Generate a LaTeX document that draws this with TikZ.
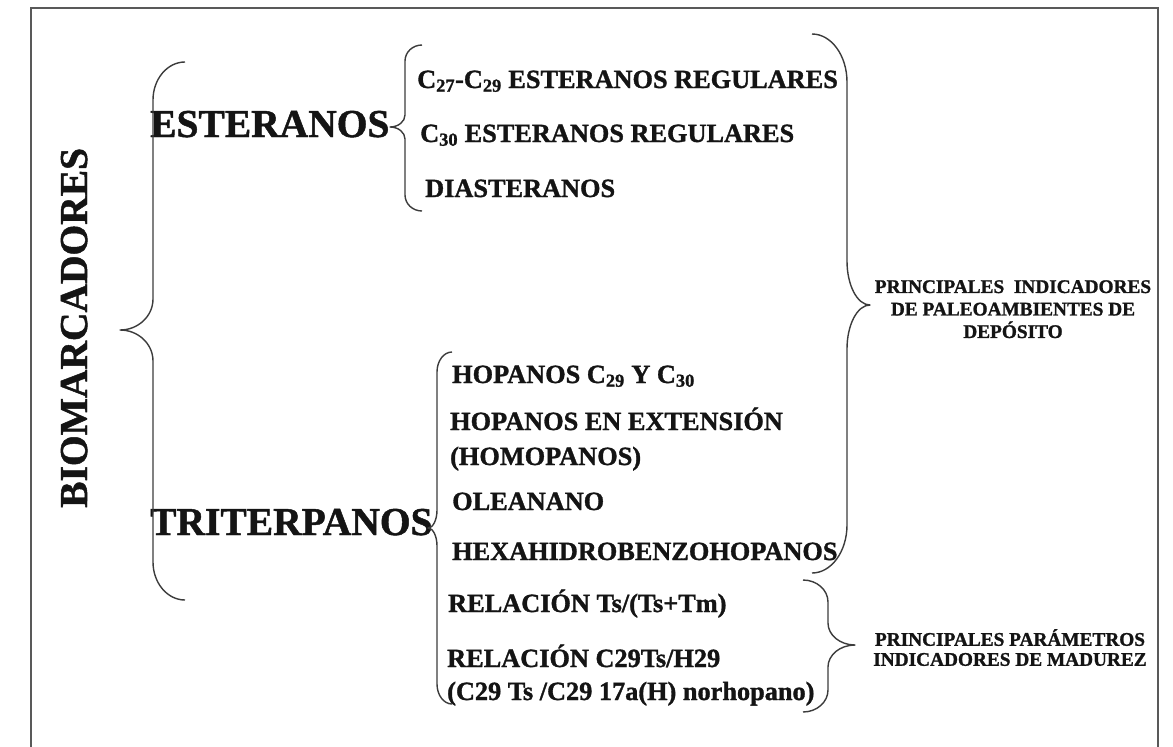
\documentclass[tikz,border=0pt]{standalone}
\usepackage{fontspec}
\setmainfont{Liberation Serif}[BoldFeatures={FakeBold=1.2}]
\definecolor{linec}{HTML}{3C3C3C}
\definecolor{textc}{HTML}{141414}
\tikzset{
  brc/.style={draw=linec, line width=1.4pt, line join=round},
  frm/.style={draw=linec!85, line width=1.8pt},
  big/.style={font=\fontsize{39.5}{44}\selectfont\bfseries, text=textc, inner sep=0pt},
  item/.style={font=\fontsize{26.3}{30}\selectfont\bfseries, text=textc, inner sep=0pt, anchor=base west},
  lab/.style={font=\fontsize{19.3}{22.5}\selectfont\bfseries, text=textc, inner sep=0pt, align=center, anchor=north}
}
% xe, xb, xt, ytop, ytip, ybot, c(end curve), c2(tip curve)
\newcommand{\mybrace}[8]{%
  \draw[brc] (#1,#4) .. controls ({#1-0.552*(#1-#2)},#4) and (#2,{#4+0.448*#7}) .. (#2,{#4+#7})
   -- (#2,{#5-#8}) .. controls (#2,{#5-0.448*#8}) and ({#3+0.552*(#2-#3)},#5) .. (#3,#5)
   .. controls ({#3+0.552*(#2-#3)},#5) and (#2,{#5+0.448*#8}) .. (#2,{#5+#8})
   -- (#2,{#6-#7}) .. controls (#2,{#6-0.448*#7}) and ({#1-0.552*(#1-#2)},#6) .. (#1,#6);}
\begin{document}
\begin{tikzpicture}[x=1pt,y=-1pt]
\useasboundingbox (0,0) rectangle (1173,747);
\fill[white] (0,0) rectangle (1173,747);
% frame
\draw[frm] (31,747) -- (31,8) -- (1158,8) -- (1158,747);

% main labels
\node[big, anchor=base west, rotate=90] (bio) at (87,508) {BIOMARCADORES};
\node[big, anchor=base west] (est) at (150,137) {ESTERANOS};
\node[big, anchor=base west] (tri) at (150,535) {TRITERPANOS};

% esteranos items
\node[item] (e1) at (417,88) {C\textsubscript{27}-C\textsubscript{29} ESTERANOS REGULARES};
\node[item] (e2) at (420,142) {C\textsubscript{30} ESTERANOS REGULARES};
\node[item] (e3) at (425,197) {DIASTERANOS};

% triterpanos items
\node[item] (t1) at (452,383) {HOPANOS C\textsubscript{29} Y C\textsubscript{30}};
\node[item] (t2) at (450,430) {HOPANOS EN EXTENSIÓN};
\node[item] (t3) at (450,465) {(HOMOPANOS)};
\node[item] (t4) at (452,510) {OLEANANO};
\node[item] (t5) at (452,560) {HEXAHIDROBENZOHOPANOS};
\node[item] (t6) at (448,612) {RELACIÓN Ts/(Ts+Tm)};
\node[item] (t7) at (447,667) {RELACIÓN C29Ts/H29};
\node[item] (t8) at (447,700) {(C29 Ts /C29 17a(H) norhopano)};

% right labels
\node[lab] (paleo) at (1013,280) {PRINCIPALES\ \ INDICADORES\\DE PALEOAMBIENTES DE\\DEPÓSITO};
\node[lab, font=\fontsize{19.3}{20}\selectfont\bfseries] (mad) at (1010,629) {PRINCIPALES PARÁMETROS\\INDICADORES DE MADUREZ};

% braces
\mybrace{185}{153}{120}{62}{330}{600}{38}{31}
\mybrace{422}{405}{390}{45}{127}{211}{16}{12}
\mybrace{812}{847}{870}{34}{305}{573}{48}{44}
\mybrace{452}{437}{428}{352}{528}{704}{20}{18}
\mybrace{803}{828}{855}{580}{645}{712}{22}{22}
\end{tikzpicture}
\end{document}
